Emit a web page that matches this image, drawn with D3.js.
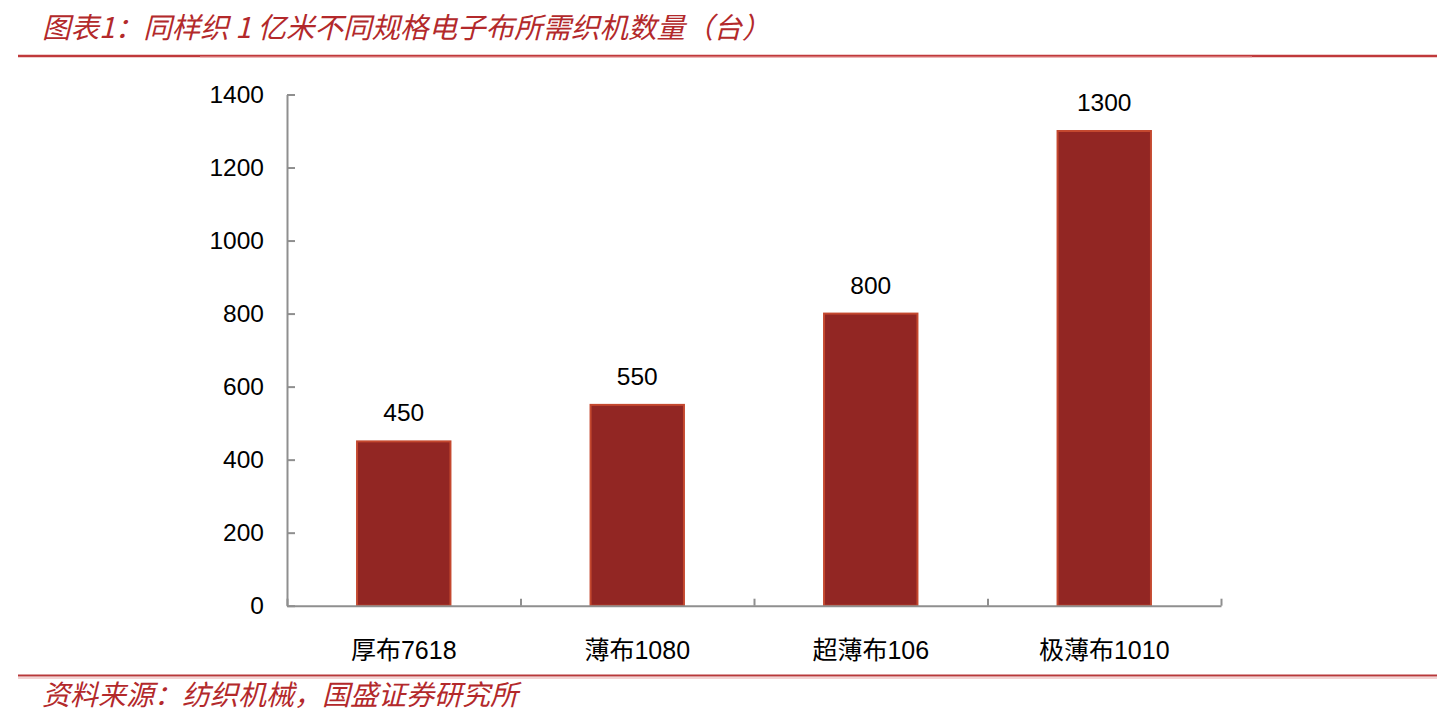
<!DOCTYPE html>
<html>
<head>
<meta charset="utf-8">
<script src="https://cdn.jsdelivr.net/npm/d3@7/dist/d3.min.js"></script>
<style>
  html, body { margin: 0; padding: 0; background: #fff; }
  svg { display: block; }
</style>
</head>
<body>
<div id="chart"></div>
<script>
/* ── Data ─────────────────────────────────────────────────────────── */
const CATEGORIES = ['厚布7618', '薄布1080', '超薄布106', '极薄布1010'];
const LOOMS      = [450, 550, 800, 1300];
const Y_TICKS    = [0, 200, 400, 600, 800, 1000, 1200, 1400];

const TITLE  = '图表1：同样织 1 亿米不同规格电子布所需织机数量（台）';
const SOURCE = '资料来源：纺织机械，国盛证券研究所';

/* ── Layout ───────────────────────────────────────────────────────── */
const W = 1452, H = 718;
const X0 = 287, X1 = 1221;       // plot left / right
const Y0 = 605.7, Y1 = 94.5;     // value 0 / value 1400
const RED   = '#b3292b';
const NUM_FONT = '"Liberation Sans", Arial, "Noto Sans CJK SC", sans-serif';
const CJK_FONT = '"Noto Sans CJK SC", "Noto Sans CJK JP", sans-serif';

const svg = d3.select('#chart').append('svg')
  .attr('width', W).attr('height', H)
  .attr('viewBox', `0 0 ${W} ${H}`);

/* ── Header / footer ──────────────────────────────────────────────── */
svg.append('text')
  .attr('x', 42).attr('y', 38)
  .attr('fill', RED)
  .attr('font-family', CJK_FONT)
  .attr('font-size', '28.5px')
  .attr('font-style', 'italic')
  .text(TITLE);

// top rule: dark ends, lighter middle
svg.append('line')
  .attr('x1', 18).attr('x2', 1437).attr('y1', 56).attr('y2', 56)
  .attr('stroke', '#c0393b').attr('stroke-width', 2.5);
svg.append('line')
  .attr('x1', 200).attr('x2', 1252).attr('y1', 57).attr('y2', 57)
  .attr('stroke', '#e9a3a3').attr('stroke-width', 1.2);

// bottom rule (double)
svg.append('line')
  .attr('x1', 18).attr('x2', 1437).attr('y1', 675.5).attr('y2', 675.5)
  .attr('stroke', '#b8383a').attr('stroke-width', 2);
svg.append('line')
  .attr('x1', 18).attr('x2', 1437).attr('y1', 678).attr('y2', 678)
  .attr('stroke', '#e7a7a7').attr('stroke-width', 1);

svg.append('text')
  .attr('x', 42).attr('y', 705)
  .attr('fill', RED)
  .attr('font-family', CJK_FONT)
  .attr('font-size', '28px')
  .attr('font-style', 'italic')
  .text(SOURCE);

/* ── Scales ───────────────────────────────────────────────────────── */
const x = d3.scaleBand()
  .domain(CATEGORIES)
  .range([X0, X1])
  .paddingInner(0.6)
  .paddingOuter(0.3);

const y = d3.scaleLinear().domain([0, 1400]).range([Y0, Y1]);

// band edges for the category tick marks
const xEdge = d3.scaleLinear().domain([0, CATEGORIES.length]).range([X0, X1]);

const g = svg.append('g');

/* ── Bars ─────────────────────────────────────────────────────────── */
g.selectAll('.bar')
  .data(CATEGORIES)
  .join('rect')
  .attr('class', 'bar')
  .attr('x', c => x(c))
  .attr('y', (c, i) => y(LOOMS[i]))
  .attr('width', x.bandwidth())
  .attr('height', (c, i) => y(0) - y(LOOMS[i]))
  .attr('fill', '#922623')
  .attr('stroke', '#c4482f')
  .attr('stroke-width', 2);

g.selectAll('.val')
  .data(CATEGORIES)
  .join('text')
  .attr('class', 'val')
  .attr('x', c => x(c) + x.bandwidth() / 2)
  .attr('y', (c, i) => y(LOOMS[i]) - 20)
  .attr('text-anchor', 'middle')
  .attr('font-family', NUM_FONT)
  .attr('font-size', '24.5px')
  .attr('fill', '#000')
  .text((c, i) => LOOMS[i]);

/* ── Axes ─────────────────────────────────────────────────────────── */
const yAxis = g.append('g')
  .attr('transform', `translate(${X0},0)`)
  .call(d3.axisLeft(y).tickValues(Y_TICKS).tickFormat(d3.format('d'))
    .tickSize(-8).tickSizeOuter(0).tickPadding(23));
yAxis.selectAll('text')
  .attr('font-family', NUM_FONT).attr('font-size', '24.5px').attr('fill', '#000');

const xAxis = g.append('g')
  .attr('transform', `translate(0,${Y0})`)
  .call(d3.axisBottom(xEdge).tickValues(d3.range(CATEGORIES.length + 1))
    .tickSize(-7).tickSizeOuter(0).tickFormat(''));

const catAxis = g.append('g')
  .attr('transform', `translate(0,${Y0})`)
  .call(d3.axisBottom(x).tickSize(0).tickPadding(36));
catAxis.select('.domain').remove();
catAxis.selectAll('text')
  .attr('font-family', NUM_FONT).attr('font-size', '25px').attr('fill', '#000');

[yAxis, xAxis].forEach(a => {
  a.selectAll('.domain, line').attr('stroke', '#8f8f8f').attr('stroke-width', 2);
});
</script>
</body>
</html>
